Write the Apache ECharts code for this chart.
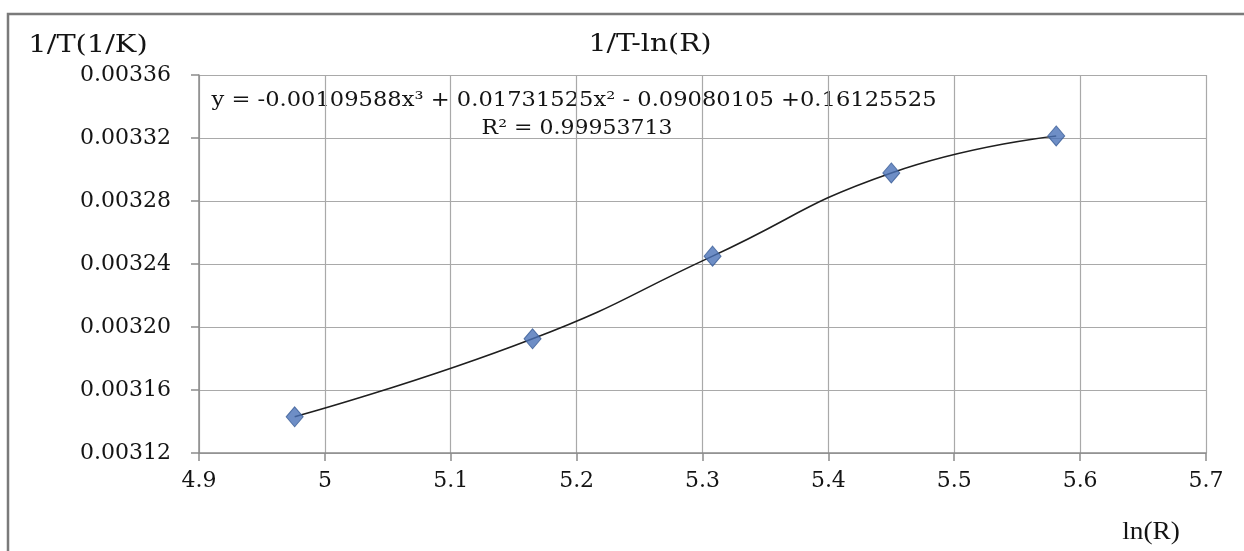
<!DOCTYPE html>
<html>
<head>
<meta charset="utf-8">
<title>1/T-ln(R)</title>
<script src="https://cdn.jsdelivr.net/npm/echarts@6/dist/echarts.min.js"></script>
<style>
  html, body { margin: 0; padding: 0; background: #ffffff; }
  #chart { width: 1244px; height: 551px; }
</style>
</head>
<body>
<div id="chart"></div>
<script>
// Measured points: ln(R) against 1/T (1/K)
const lnR = [4.976, 5.165, 5.308, 5.450, 5.581];
const invT = [0.003143, 0.0031925, 0.003245, 0.0032978, 0.0033213];

// Axis ranges and tick steps
const xMin = 4.9, xMax = 5.7, xStep = 0.1;
const yMin = 0.00312, yMax = 0.00336, yStep = 0.00004;

// Texts
const chartTitle = '1/T-ln(R)';
const yAxisTitle = '1/T(1/K)';
const xAxisTitle = 'ln(R)';
const fitEquation = 'y = -0.00109588x³ + 0.01731525x² - 0.09080105 +0.16125525';
const fitR2 = 'R² = 0.99953713';

const points = lnR.map((x, i) => [x, invT[i]]);

const serif = '"DejaVu Serif", "Liberation Serif", serif';
const gridGray = '#a9a9a9';
const axisGray = '#8c8c8c';
const ink = '#141414';

const chart = echarts.init(document.getElementById('chart'), null, { renderer: 'canvas' });

// Helper for the free-standing captions (slightly widened serif text)
function caption(text, x, y, size, family, widen) {
  return {
    type: 'text', x: x, y: y, scaleX: widen, scaleY: 1,
    style: {
      text: text, font: size + 'px ' + family, fill: ink,
      textAlign: 'center', textVerticalAlign: 'middle'
    }
  };
}

chart.setOption({
  backgroundColor: '#ffffff',
  animation: false,
  grid: {
    left: 199, right: 38, top: 75, bottom: 98,
    containLabel: false,
    outerBoundsMode: 'none'
  },
  xAxis: {
    type: 'value',
    min: xMin, max: xMax, interval: xStep,
    axisLine: { show: true, onZero: false, lineStyle: { color: axisGray, width: 1.5 } },
    axisTick: { show: true, inside: false, length: 8, lineStyle: { color: axisGray, width: 1.5 } },
    axisLabel: { margin: 17, color: ink, fontFamily: serif, fontSize: 22 },
    splitLine: { show: true, lineStyle: { color: gridGray, width: 1.2 } }
  },
  yAxis: {
    type: 'value',
    min: yMin, max: yMax, interval: yStep,
    axisLine: { show: true, onZero: false, lineStyle: { color: axisGray, width: 1.5 } },
    axisTick: { show: true, inside: false, length: 8, lineStyle: { color: axisGray, width: 1.5 } },
    axisLabel: {
      margin: 28, color: ink, fontFamily: serif, fontSize: 22,
      formatter: v => v.toFixed(5)
    },
    splitLine: { show: true, lineStyle: { color: gridGray, width: 1.2 } }
  },
  series: [
    {
      // smooth trend curve through the measured points
      type: 'line',
      data: points,
      smooth: 0.5,
      symbol: 'none',
      lineStyle: { color: '#1f1f1f', width: 1.6 },
      z: 2
    },
    {
      type: 'scatter',
      data: points,
      symbol: 'diamond',
      symbolSize: [17, 20],
      itemStyle: { color: '#4a72b8', borderColor: '#3a5d96', borderWidth: 1 },
      z: 3
    }
  ],
  graphic: [
    {
      type: 'rect',
      shape: { x: 8, y: 14, width: 1400, height: 700 },
      style: { fill: 'none', stroke: '#7a7a7a', lineWidth: 2.5 },
      silent: true, z: 0
    },
    caption(yAxisTitle, 88, 46, 24, serif, 1.2),
    caption(chartTitle, 650, 45, 24, serif, 1.18),
    caption(fitEquation, 574, 101, 20, serif, 1.13),
    caption(fitR2, 577, 129, 20, serif, 1.1),
    caption(xAxisTitle, 1151, 532, 26, '"Liberation Serif", serif', 1.05)
  ]
});
</script>
</body>
</html>
